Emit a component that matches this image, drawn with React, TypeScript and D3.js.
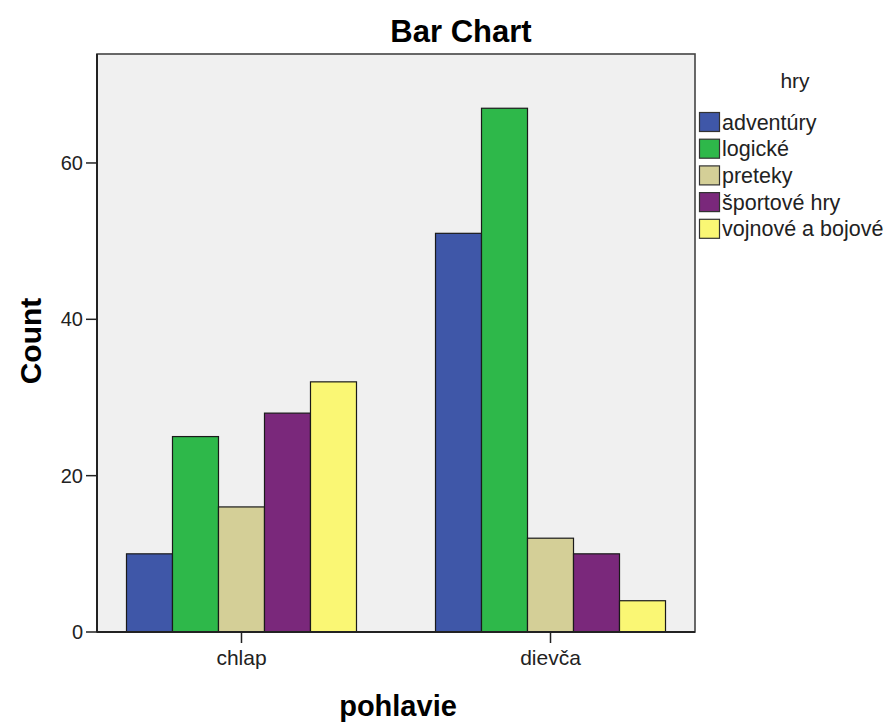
import React from "react";
import * as d3 from "d3";

const categories = ["chlap", "dievča"];
const series = ["adventúry", "logické", "preteky", "športové hry", "vojnové a bojové"];
const chlapValues = [10, 25, 16, 28, 32];
const dievcaValues = [51, 67, 12, 10, 4];
const yTicks = [0, 20, 40, 60];
const colors = ["#3f57a8", "#2eb84a", "#d4cf97", "#7a287b", "#faf774"];

const W = 893;
const H = 727;
const plot = { left: 97, right: 695, top: 54, bottom: 632 };
const FONT = "'Liberation Sans', Arial, sans-serif";

export default function App() {
  const valuesByCat = [chlapValues, dievcaValues];
  const y = d3.scaleLinear().domain([0, 73.94]).range([plot.bottom, plot.top]);
  const x = d3.scalePoint<string>().domain(categories).range([plot.left, plot.right]).padding(0.4676);
  const groupWidth = 230;
  const xs = d3.scaleBand<string>().domain(series).range([-groupWidth / 2, groupWidth / 2]).paddingInner(0);

  return (
    <svg width={W} height={H} style={{ position: "absolute", left: 0, top: 0, background: "#fff" }}>
      <text x={461} y={42} textAnchor="middle" fontFamily={FONT} fontWeight="bold" fontSize={31}>Bar Chart</text>
      <rect x={plot.left} y={plot.top} width={plot.right - plot.left} height={plot.bottom - plot.top} fill="#f0f0f0" stroke="none" />
      {categories.map((c, ci) =>
        series.map((s, si) => {
          const v = valuesByCat[ci][si];
          const x0 = (x(c) as number) + (xs(s) as number);
          return (
            <rect key={c + s} x={x0} y={y(v)} width={xs.bandwidth()} height={plot.bottom - y(v)}
              fill={colors[si]} stroke="#1a1a1a" strokeWidth={1.2} />
          );
        })
      )}
      <rect x={plot.left} y={plot.top} width={plot.right - plot.left} height={plot.bottom - plot.top} fill="none" stroke="#444" strokeWidth={1.6} />
      <line x1={plot.left} x2={plot.left} y1={plot.top} y2={plot.bottom} stroke="#222" strokeWidth={2} />
      <line x1={plot.left} x2={plot.right} y1={plot.bottom} y2={plot.bottom} stroke="#222" strokeWidth={2} />
      {yTicks.map((t) => (
        <g key={t}>
          <line x1={plot.left - 11} x2={plot.left} y1={y(t)} y2={y(t)} stroke="#222" strokeWidth={1.5} />
          <text x={plot.left - 14} y={y(t)} dy="0.35em" textAnchor="end" fontFamily={FONT} fontSize={20} fill="#222">{t}</text>
        </g>
      ))}
      {categories.map((c) => (
        <g key={c}>
          <line x1={x(c)} x2={x(c)} y1={plot.bottom} y2={plot.bottom + 11} stroke="#222" strokeWidth={1.5} />
          <text x={x(c)} y={plot.bottom + 33} textAnchor="middle" fontFamily={FONT} fontSize={21} fill="#222">{c}</text>
        </g>
      ))}
      <text transform={`translate(41,${(plot.top + plot.bottom) / 2 - 2}) rotate(-90)`} textAnchor="middle"
        fontFamily={FONT} fontWeight="bold" fontSize={30}>Count</text>
      <text x={398} y={716} textAnchor="middle" fontFamily={FONT} fontWeight="bold" fontSize={29}>pohlavie</text>
      <text x={795} y={88} textAnchor="middle" fontFamily={FONT} fontSize={21} fill="#222">hry</text>
      {series.map((s, i) => (
        <g key={s} transform={`translate(699,${112 + i * 26.7})`}>
          <rect x={0.5} y={0.5} width={20} height={19} fill={colors[i]} stroke="#333" strokeWidth={1.2} />
          <text x={23} y={10} dy="0.35em" fontFamily={FONT} fontSize={21.5} fill="#222">{s}</text>
        </g>
      ))}
    </svg>
  );
}
